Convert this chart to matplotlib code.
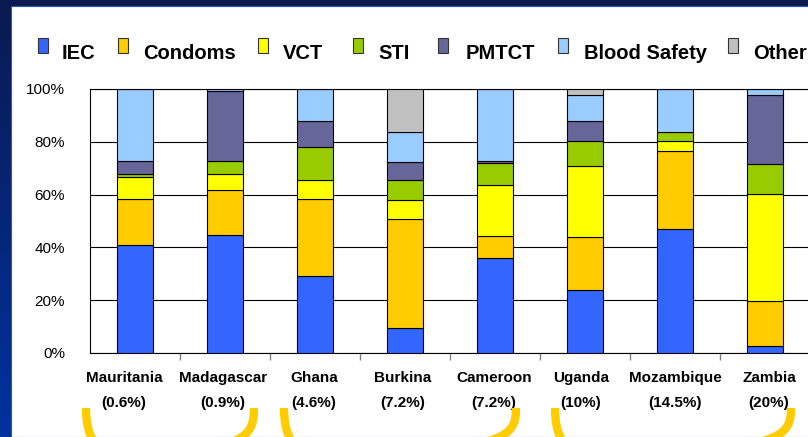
import matplotlib
matplotlib.use("Agg")
import matplotlib.pyplot as plt
import numpy as np
from matplotlib.patches import Rectangle, PathPatch
from matplotlib.path import Path
from matplotlib.colors import LinearSegmentedColormap
from matplotlib.transforms import blended_transform_factory

plt.rcParams['font.family'] = ['Liberation Sans', 'DejaVu Sans']

# data (percent of spending per area)
countries = ["Mauritania", "Madagascar", "Ghana", "Burkina", "Cameroon", "Uganda", "Mozambique", "Zambia"]
shares = ["(0.6%)", "(0.9%)", "(4.6%)", "(7.2%)", "(7.2%)", "(10%)", "(14.5%)", "(20%)"]
series = ["IEC", "Condoms", "VCT", "STI", "PMTCT", "Blood Safety", "Other"]
iec = [41.0, 44.6, 29.0, 9.6, 36.0, 24.0, 46.8, 2.8]
condoms = [17.2, 17.0, 29.2, 41.3, 8.5, 20.0, 29.7, 16.9]
vct = [8.3, 6.3, 7.5, 7.1, 19.2, 26.8, 3.7, 40.4]
sti = [1.4, 5.0, 12.2, 7.7, 8.4, 9.4, 3.4, 11.5]
pmtct = [5.0, 26.2, 9.8, 6.5, 0.8, 7.7, 0.0, 26.1]
blood = [27.1, 0.9, 12.3, 11.4, 27.1, 10.0, 16.4, 2.3]
other = [0.0, 0.0, 0.0, 16.4, 0.0, 2.1, 0.0, 0.0]

colors = ["#3366FF", "#FFCC00", "#FFFF00", "#99CC00", "#666699", "#99CCFF", "#C0C0C0"]

W, H = 808, 437
fig = plt.figure(figsize=(W / 100, H / 100), dpi=100)

def fx(px):
    return px / W

def fy(py):
    return 1 - py / H

# slide background
bg = fig.add_axes([0, 0, 1, 1], zorder=-10)
navy = LinearSegmentedColormap.from_list("navy", ["#0A1A50", "#0032A0"])
bg.imshow(np.linspace(0, 1, 100).reshape(-1, 1), cmap=navy, aspect='auto', extent=[0, 1, 0, 1])
bg.add_patch(Rectangle((fx(11), 0), 1, fy(6), facecolor='white', edgecolor='#3355AA', lw=0.8))
bg.set_xlim(0, 1)
bg.set_ylim(0, 1)
bg.axis('off')

ax = fig.add_axes([fx(90), fy(353), fx(720), 264 / H])
ax.set_facecolor('none')

x = np.arange(len(countries)) + 0.5
bottom = np.zeros(len(countries))
for vals, c in zip([iec, condoms, vct, sti, pmtct, blood, other], colors):
    vals = np.array(vals)
    ax.bar(x, vals, 0.41, bottom=bottom, color=c, edgecolor='black', lw=0.8, zorder=3)
    bottom += vals

ax.set_xlim(0, 8)
ax.set_ylim(0, 100)
ax.set_yticks(range(0, 101, 20))
ax.set_yticklabels([f"{v}%" for v in range(0, 101, 20)], fontsize=11)
ax.tick_params(axis='y', length=0, pad=18)
ax.yaxis.grid(True, color='black', lw=0.8)
ax.set_axisbelow(True)
ax.set_xticks([])
ax.set_xticks(range(1, 8), minor=True)
ax.tick_params(axis='x', which='minor', length=5, color='#808080', width=1)
ax.spines['right'].set_visible(False)
for s in ['left', 'bottom', 'top']:
    ax.spines[s].set_color('black')
    ax.spines[s].set_linewidth(0.8)

# category labels
offsets = [-11, -2, -1, -2, -1, -4, 0, 4]
tr = blended_transform_factory(ax.transData, ax.transAxes)
for xi, name, sh, off in zip(x, countries, shares, offsets):
    ax.text(xi + off / 90, -25 / 264, name, transform=tr, ha='center', va='center',
            fontsize=11, fontweight='bold')
    ax.text(xi + off / 90, -50 / 264, sh, transform=tr, ha='center', va='center',
            fontsize=11, fontweight='bold')

# legend
mark_x = [38, 118, 258, 353, 438, 558, 728]
text_x = [62, 143, 283, 378, 466, 584, 753]
for name, c, mx, tx in zip(series, colors, mark_x, text_x):
    fig.add_artist(Rectangle((fx(mx), fy(53)), fx(10), 15 / H, facecolor=c,
                             edgecolor='#333333', lw=0.8, transform=fig.transFigure))
    fig.text(fx(tx), fy(59), name, fontsize=14.5, fontweight='bold', va='baseline')

# yellow brackets (bottom part runs off the slide)
for x0, x1 in [(86, 254), (284, 516), (555, 791)]:
    verts = [(x0, 408), (x0, 438), (x0 + 10, 452), (x0 + 35, 452),
             (x1 - 35, 452),
             (x1 - 10, 452), (x1, 438), (x1, 408)]
    codes = [Path.MOVETO, Path.CURVE4, Path.CURVE4, Path.CURVE4,
             Path.LINETO, Path.CURVE4, Path.CURVE4, Path.CURVE4]
    p = Path([(fx(a), fy(b)) for a, b in verts], codes)
    fig.add_artist(PathPatch(p, facecolor='none', edgecolor='#FFCC00', lw=6,
                             capstyle='butt', transform=fig.transFigure))

fig.savefig("out.png", dpi=100)
